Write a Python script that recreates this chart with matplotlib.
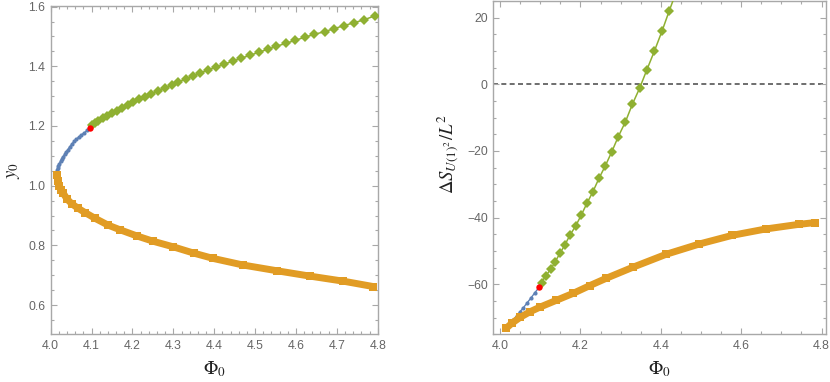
import matplotlib
matplotlib.use("Agg")
import matplotlib.pyplot as plt
from matplotlib.ticker import MultipleLocator, FormatStrFormatter

plt.rcParams['mathtext.fontset'] = 'stix'
plt.rcParams['font.family'] = ['Liberation Sans', 'DejaVu Sans']

# ---------------- data ----------------
# left panel: y0 vs Phi0
phi_green = [4.100, 4.108, 4.116, 4.127, 4.138, 4.150, 4.162, 4.175, 4.188, 4.202,
             4.216, 4.231, 4.246, 4.263, 4.279, 4.296, 4.312, 4.331, 4.349, 4.366,
             4.385, 4.404, 4.425, 4.445, 4.466, 4.488, 4.509, 4.531, 4.552, 4.576,
             4.598, 4.621, 4.645, 4.670, 4.693, 4.717, 4.742, 4.767, 4.793]
y0_green = [1.202, 1.209, 1.218, 1.226, 1.234, 1.242, 1.251, 1.260, 1.270, 1.279,
            1.289, 1.298, 1.308, 1.318, 1.328, 1.337, 1.347, 1.358, 1.368, 1.377,
            1.388, 1.397, 1.407, 1.417, 1.427, 1.437, 1.447, 1.457, 1.467, 1.477,
            1.487, 1.497, 1.507, 1.516, 1.526, 1.536, 1.546, 1.556, 1.569]

phi_blue = [4.013, 4.014, 4.015, 4.017, 4.019, 4.021, 4.024, 4.027, 4.030, 4.034,
            4.038, 4.042, 4.047, 4.052, 4.057, 4.063, 4.069, 4.075, 4.082, 4.089, 4.097]
y0_blue = [1.035, 1.043, 1.051, 1.059, 1.067, 1.074, 1.082, 1.090, 1.097, 1.105,
           1.113, 1.121, 1.131, 1.140, 1.148, 1.156, 1.163, 1.170, 1.177, 1.185, 1.192]

phi_orange = [4.016, 4.018, 4.021, 4.026, 4.031, 4.040, 4.051, 4.066, 4.084, 4.108,
              4.140, 4.170, 4.210, 4.250, 4.300, 4.350, 4.398, 4.471, 4.553, 4.634,
              4.716, 4.789]
y0_orange = [1.036, 1.015, 1.000, 0.985, 0.974, 0.955, 0.940, 0.925, 0.910, 0.891,
             0.868, 0.852, 0.832, 0.814, 0.795, 0.774, 0.756, 0.734, 0.715, 0.697,
             0.680, 0.662]

phi_red = [4.097]
y0_red = [1.192]

# right panel: Delta S / L^2 vs Phi0
phi_green_r = [4.103, 4.113, 4.126, 4.137, 4.149, 4.161, 4.174, 4.188, 4.202, 4.216,
               4.231, 4.246, 4.262, 4.278, 4.294, 4.312, 4.329, 4.347, 4.365, 4.384,
               4.403, 4.421, 4.440]
S_green = [-59.5, -57.5, -55.5, -53.2, -50.7, -48.2, -45.2, -42.5, -39.2, -35.7,
           -32.2, -28.2, -24.4, -20.2, -15.7, -11.2, -6.0, -1.2, 4.3, 10.0,
           16.0, 22.1, 28.3]

phi_blue_r = [4.015, 4.020, 4.026, 4.033, 4.041, 4.049, 4.058, 4.067, 4.076, 4.086, 4.097]
S_blue = [-73.2, -72.5, -71.6, -70.6, -69.5, -68.3, -67.0, -65.6, -64.2, -62.6, -60.9]

phi_orange_r = [4.015, 4.030, 4.050, 4.075, 4.100, 4.140, 4.182, 4.223, 4.264, 4.330,
                4.413, 4.496, 4.578, 4.661, 4.744, 4.783]
S_orange = [-73.2, -71.6, -69.9, -68.2, -66.8, -64.8, -62.7, -60.4, -58.2, -54.9,
            -51.0, -47.9, -45.3, -43.4, -42.0, -41.5]

S_red = [-60.9]

# ---------------- style ----------------
C_BLUE = '#5E81B5'
C_ORANGE = '#E19C24'
C_GREEN = '#8FB032'
C_RED = '#FF0000'
FRAME = '#A8A8A8'
TICKLAB = '#666666'
LABEL = '#222222'

W, H = 830, 382
fig = plt.figure(figsize=(W / 100, H / 100), dpi=100)

def px_axes(x0, x1, y0, y1):
    return fig.add_axes([x0 / W, 1 - y1 / H, (x1 - x0) / W, (y1 - y0) / H])

axL = px_axes(50.7, 377.7, 5.7, 334.3)
axR = px_axes(493.3, 826.0, 1.0, 334.3)

def style(ax):
    for s in ax.spines.values():
        s.set_color(FRAME)
        s.set_linewidth(1.0)
    ax.tick_params(which='both', direction='in', top=True, right=True,
                   color=FRAME, labelcolor=TICKLAB, labelsize=8.8, width=0.8)
    ax.tick_params(which='major', length=4, pad=4)
    ax.tick_params(which='minor', length=2.2)

def draw(ax, pb, yb, po, yo, pg, yg, pr, yr):
    ax.plot(pb, yb, '-', color=C_BLUE, lw=1.0, marker='o', ms=3.0, mew=0, zorder=2)
    ax.plot(po, yo, '-', color=C_ORANGE, lw=5.0, solid_capstyle='butt', zorder=3)
    ax.plot(po, yo, 's', color=C_ORANGE, ms=5.2, mew=0, zorder=3)
    ax.plot(pg, yg, '-', color=C_GREEN, lw=1.1, marker='D', ms=5.0, mew=0, zorder=4)
    ax.plot(pr, yr, 'o', color=C_RED, ms=4.6, mew=0, zorder=5)

# left
draw(axL, phi_blue, y0_blue, phi_orange, y0_orange, phi_green, y0_green, phi_red, y0_red)
axL.set_xlim(4.0, 4.8)
axL.set_ylim(0.502, 1.603)
axL.xaxis.set_major_locator(MultipleLocator(0.1))
axL.xaxis.set_minor_locator(MultipleLocator(0.02))
axL.yaxis.set_major_locator(MultipleLocator(0.2))
axL.yaxis.set_minor_locator(MultipleLocator(0.05))
axL.xaxis.set_major_formatter(FormatStrFormatter('%.1f'))
axL.yaxis.set_major_formatter(FormatStrFormatter('%.1f'))
style(axL)
axL.set_xlabel(r'$\Phi_0$', fontsize=13.5, color=LABEL)
axL.set_ylabel(r'$y_0$', fontsize=13.5, color=LABEL)
axL.xaxis.set_label_coords(0.5, -0.075)
axL.yaxis.set_label_coords(-0.088, 0.5)

# right
draw(axR, phi_blue_r, S_blue, phi_orange_r, S_orange, phi_green_r, S_green, phi_red, S_red)
axR.axhline(0, color='#555555', lw=1.2, ls=(0, (3, 2)), zorder=1)
axR.set_xlim(3.983, 4.811)
axR.set_ylim(-75, 25)
axR.xaxis.set_major_locator(MultipleLocator(0.2))
axR.xaxis.set_minor_locator(MultipleLocator(0.05))
axR.yaxis.set_major_locator(MultipleLocator(20))
axR.yaxis.set_minor_locator(MultipleLocator(5))
axR.xaxis.set_major_formatter(FormatStrFormatter('%.1f'))
style(axR)
axR.set_xlabel(r'$\Phi_0$', fontsize=13.5, color=LABEL)
axR.set_ylabel(r'$\Delta S_{U(1)^2}/L^2$', fontsize=13.5, color=LABEL)
axR.xaxis.set_label_coords(0.5, -0.075)
axR.yaxis.set_label_coords(-0.1, 0.54)

fig.savefig('out.png', dpi=100)
